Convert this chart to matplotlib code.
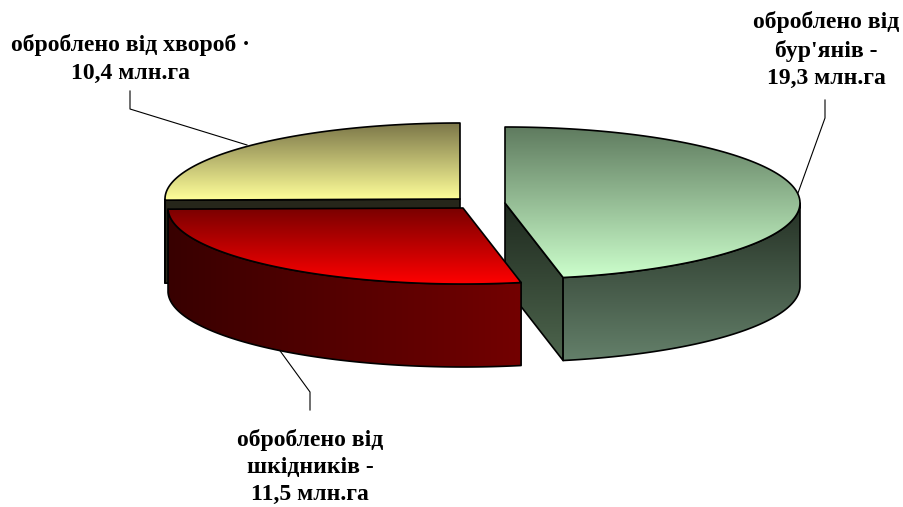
import numpy as np
import matplotlib.pyplot as plt
from matplotlib.patches import Polygon
from matplotlib.colors import to_rgb

# data (million hectares)
values = [19.3, 11.5, 10.4]
labels = ["оброблено від\nбур'янів -\n19,3 млн.га",
          "оброблено від\nшкідників -\n11,5 млн.га",
          "оброблено від хвороб ·\n10,4 млн.га"]

# top gradient, wall gradient, cut face gradient per slice
top_cols = [("#5f7b5f", "#ccffcc"), ("#7a0000", "#ff0000"), ("#7a7548", "#ffff99")]
wall_cols = [("#243024", "#64806a"), ("#380000", "#730000"), ("#26261a", "#26261a")]
cut_cols = [("#1f2a1f", "#4e664e"), ("#3a0000", "#6a0000"), ("#26261a", "#2a2a1c")]
wall_vertical = [True, False, True]

# layout in pixels
CX, CY = 461, 203
RX, RY = 295, 76
DEPTH = 83
offsets = [(44, 0), (2, 5), (-1, -4)]
draw_order = [2, 0, 1]

fig = plt.figure(figsize=(9.04, 5.07), dpi=100)
ax = fig.add_axes([0, 0, 1, 1])
ax.set_xlim(0, 904)
ax.set_ylim(507, 0)
ax.axis("off")
ax.set_autoscale_on(False)

zc = [1]


def grad_fill(verts, c1, c2, vertical=True):
    verts = np.asarray(verts)
    z = zc[0]
    zc[0] += 1
    poly = Polygon(verts, closed=True, facecolor="none", edgecolor="black",
                   lw=1.2, zorder=z + 0.5, joinstyle="round")
    ax.add_patch(poly)
    t = np.linspace(0, 1, 256)
    cols = (1 - t)[:, None] * np.array(to_rgb(c1)) + t[:, None] * np.array(to_rgb(c2))
    img = cols[:, None, :] if vertical else cols[None, :, :]
    xs, ys = verts[:, 0], verts[:, 1]
    im = ax.imshow(img, extent=(xs.min(), xs.max(), ys.max(), ys.min()),
                   origin="upper", aspect="auto", interpolation="bilinear", zorder=z)
    im.set_clip_path(poly)


def arc(cx, cy, phis, dz=0):
    r = np.radians(phis)
    return np.column_stack([cx + RX * np.cos(r), cy - RY * np.sin(r) + dz])


total = sum(values)
starts = 90 - 360 * np.concatenate([[0], np.cumsum(values)[:-1]]) / total
ends = starts - 360 * np.array(values) / total

for i in draw_order:
    a, b = starts[i], ends[i]
    cx, cy = CX + offsets[i][0], CY + offsets[i][1]
    # visible cut faces
    for ang, vis in ((a, np.cos(np.radians(a)) < -1e-6), (b, np.cos(np.radians(b)) > 1e-6)):
        if vis:
            p = arc(cx, cy, [ang])[0]
            verts = [(cx, cy), p, (p[0], p[1] + DEPTH), (cx, cy + DEPTH)]
            grad_fill(verts, *cut_cols[i])
    # outer wall (front half only)
    phis = np.linspace(b, a, 400)
    phis = phis[np.sin(np.radians(phis)) <= 1e-9]
    if len(phis) > 1:
        top = arc(cx, cy, phis)
        bot = arc(cx, cy, phis[::-1], DEPTH)
        grad_fill(np.vstack([top, bot]), *wall_cols[i], vertical=wall_vertical[i])
    # top face
    phis = np.linspace(a, b, 400)
    verts = np.vstack([[[cx, cy]], arc(cx, cy, phis)])
    grad_fill(verts, *top_cols[i])

# leader lines
ax.plot([825, 825, 798], [100, 118, 193], color="black", lw=0.8, zorder=0.5)
ax.plot([310, 310, 278], [410, 392, 348], color="black", lw=0.8, zorder=0.5)
ax.plot([130, 130, 247], [91, 109, 145], color="black", lw=0.8, zorder=0.5)

label_pos = [(826, 50), (310, 467), (131, 59)]
for (x, y), txt in zip(label_pos, labels):
    ax.text(x, y, txt, ha="center", va="center", multialignment="center",
            fontfamily="Liberation Serif", fontweight="bold", fontsize=17,
            linespacing=1.38, zorder=50)

fig.savefig("out.png", dpi=100)
